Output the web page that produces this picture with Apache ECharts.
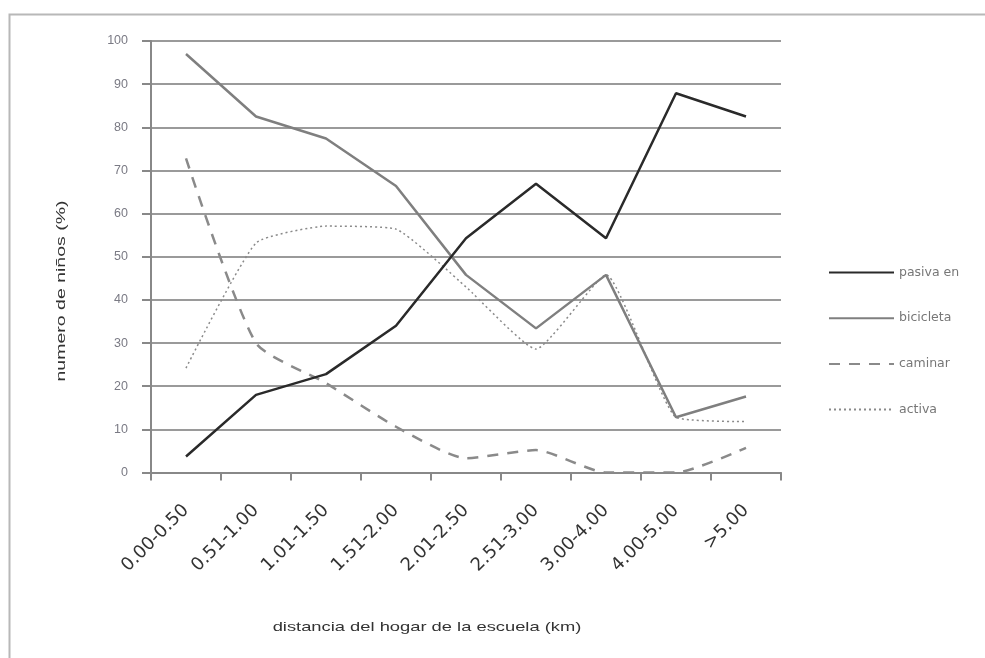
<!DOCTYPE html>
<html>
<head>
<meta charset="utf-8">
<script src="https://cdn.jsdelivr.net/npm/echarts@6/dist/echarts.min.js"></script>
<style>html,body{margin:0;padding:0;background:#fff}#c{width:985px;height:658px}</style>
</head>
<body>
<div id="c"></div>
<script>
const categories = ['0.00-0.50','0.51-1.00','1.01-1.50','1.51-2.00','2.01-2.50','2.51-3.00','3.00-4.00','4.00-5.00','>5.00'];
const pasiva = [3.7, 18.0, 22.8, 34.0, 54.3, 66.9, 54.3, 87.9, 82.5];
const bicicleta = [97.0, 82.5, 77.4, 66.4, 45.8, 33.4, 45.8, 12.8, 17.6];
const caminar = [72.8, 30.0, 20.7, 10.6, 3.3, 5.2, 0, 0, 5.7];
const activa = [24.2, 53.2, 57.1, 56.4, 43.0, 28.6, 45.8, 12.8, 11.8];
const seriesNames = ['pasiva en', 'bicicleta', 'caminar', 'activa'];
const xTitle = 'distancia del hogar de la escuela (km)';
const yTitle = 'numero de niños (%)';

const chart = echarts.init(document.getElementById('c'));
chart.setOption({
  animation: false,
  backgroundColor: '#fff',
  graphic: [
    {type: 'rect', left: 7, top: 12, shape: {width: 1100, height: 800},
     style: {fill: 'none', stroke: '#b8b8b8', lineWidth: 2}, silent: true},
    {type: 'text', x: 427, y: 627, scaleX: 1.41, scaleY: 1,
     style: {text: xTitle, fill: '#333', font: '13px "Liberation Sans", Arial', align: 'center', verticalAlign: 'middle'}},
    {type: 'text', x: 61, y: 291, rotation: Math.PI / 2, scaleX: 1.5, scaleY: 1,
     style: {text: yTitle, fill: '#333', font: '13px "Liberation Sans", Arial', align: 'center', verticalAlign: 'middle'}}
  ],
  grid: {left: 151, right: 204, top: 41, bottom: 185.5, containLabel: false},
  legend: {
    orient: 'vertical', left: 823, top: 261,
    itemWidth: 65, itemHeight: 14, itemGap: 32.7,
    itemStyle: {opacity: 0},
    textStyle: {color: '#777', fontSize: 12.5, fontFamily: 'DejaVu Sans', padding: [7, 0, 0, 0]},
    data: seriesNames
  },
  xAxis: {
    type: 'category', data: categories, boundaryGap: true,
    axisLine: {lineStyle: {color: '#888', width: 2}},
    axisTick: {show: true, alignWithLabel: false, length: 8, lineStyle: {color: '#888', width: 2}},
    axisLabel: {rotate: 45, color: '#333', fontSize: 18, fontFamily: 'DejaVu Sans', margin: 35, interval: 0}
  },
  yAxis: {
    type: 'value', min: 0, max: 100, interval: 10,
    axisLine: {show: true, lineStyle: {color: '#888', width: 2}},
    axisTick: {show: true, length: 9, lineStyle: {color: '#888', width: 2}},
    axisLabel: {color: '#7a7a84', fontSize: 12.5, fontFamily: 'Liberation Sans', margin: 23},
    splitLine: {show: true, lineStyle: {color: '#9a9a9a', width: 2}}
  },
  series: [
    {name: seriesNames[0], type: 'line', data: pasiva, symbol: 'none', z: 5,
     lineStyle: {color: '#2a2a2a', width: 2.5}, itemStyle: {color: '#2a2a2a'}},
    {name: seriesNames[1], type: 'line', data: bicicleta, symbol: 'none', z: 4,
     lineStyle: {color: '#7f7f7f', width: 2.5}, itemStyle: {color: '#7f7f7f'}},
    {name: seriesNames[2], type: 'line', data: caminar, symbol: 'none', smooth: 0.2, z: 3,
     lineStyle: {color: '#8a8a8a', width: 2.5, type: [11, 9]}, itemStyle: {color: '#8a8a8a'}},
    {name: seriesNames[3], type: 'line', data: activa, symbol: 'none', smooth: 0.15, z: 3,
     lineStyle: {color: '#8a8a8a', width: 1.5, type: [2, 3]}, itemStyle: {color: '#8a8a8a'}}
  ]
});
</script>
</body>
</html>
